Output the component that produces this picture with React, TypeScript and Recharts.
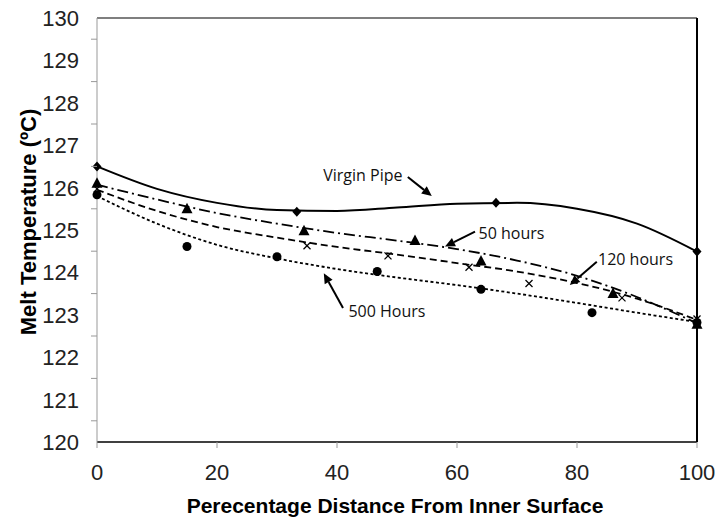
import React from 'react'
import {
  ComposedChart,
  Line,
  Scatter,
  XAxis,
  YAxis,
  ReferenceLine,
  ReferenceDot,
} from 'recharts'

// measured points (markers)
const virginPoints = [
  { x: 0, y: 126.5 },
  { x: 33.3, y: 125.43 },
  { x: 66.5, y: 125.64 },
  { x: 100, y: 124.49 },
]
const hours50Points = [
  { x: 0, y: 126.1 },
  { x: 15, y: 125.5 },
  { x: 34.5, y: 124.98 },
  { x: 53, y: 124.75 },
  { x: 64, y: 124.27 },
  { x: 86, y: 123.5 },
  { x: 100, y: 122.78 },
]
const hours120Points = [
  { x: 0, y: 125.97 },
  { x: 35, y: 124.63 },
  { x: 48.5, y: 124.39 },
  { x: 62, y: 124.12 },
  { x: 72, y: 123.74 },
  { x: 87.5, y: 123.4 },
  { x: 100, y: 122.9 },
]
const hours500Points = [
  { x: 0, y: 125.83 },
  { x: 15, y: 124.61 },
  { x: 30, y: 124.37 },
  { x: 46.7, y: 124.02 },
  { x: 64, y: 123.6 },
  { x: 82.5, y: 123.05 },
  { x: 100, y: 122.82 },
]

// trend lines, every 10%
const virginTrend = [
  { x: 0, y: 126.5 },
  { x: 10, y: 125.97 },
  { x: 20, y: 125.64 },
  { x: 30, y: 125.47 },
  { x: 40, y: 125.45 },
  { x: 50, y: 125.53 },
  { x: 60, y: 125.62 },
  { x: 70, y: 125.64 },
  { x: 80, y: 125.5 },
  { x: 90, y: 125.15 },
  { x: 100, y: 124.49 },
]
const hours50Trend = [
  { x: 0, y: 126.07 },
  { x: 10, y: 125.72 },
  { x: 20, y: 125.4 },
  { x: 30, y: 125.15 },
  { x: 40, y: 124.93 },
  { x: 50, y: 124.75 },
  { x: 60, y: 124.55 },
  { x: 70, y: 124.28 },
  { x: 80, y: 123.92 },
  { x: 90, y: 123.42 },
  { x: 100, y: 122.8 },
]
const hours120Trend = [
  { x: 0, y: 125.95 },
  { x: 10, y: 125.45 },
  { x: 20, y: 125.07 },
  { x: 30, y: 124.82 },
  { x: 40, y: 124.6 },
  { x: 50, y: 124.42 },
  { x: 60, y: 124.22 },
  { x: 70, y: 124.02 },
  { x: 80, y: 123.75 },
  { x: 90, y: 123.38 },
  { x: 100, y: 122.88 },
]
const hours500Trend = [
  { x: 0, y: 125.8 },
  { x: 10, y: 125.15 },
  { x: 20, y: 124.65 },
  { x: 30, y: 124.33 },
  { x: 40, y: 124.08 },
  { x: 50, y: 123.88 },
  { x: 60, y: 123.7 },
  { x: 70, y: 123.5 },
  { x: 80, y: 123.28 },
  { x: 90, y: 123.05 },
  { x: 100, y: 122.83 },
]

const xTicks = [0, 20, 40, 60, 80, 100]
const yTicks = [
  120, 120.5, 121, 121.5, 122, 122.5, 123, 123.5, 124, 124.5, 125,
  125.5, 126, 126.5, 127, 127.5, 128, 128.5, 129, 129.5, 130,
]

// annotations: label position + arrow (tail -> head), in data units
const notes = [
  { text: 'Virgin Pipe', x: 37.7, y: 126.3, from: { x: 51.8, y: 126.25 }, to: { x: 55.8, y: 125.8 } },
  { text: '50 hours', x: 63.6, y: 124.93, from: { x: 63.0, y: 124.96 }, to: { x: 58.0, y: 124.61 } },
  { text: '120 hours', x: 83.5, y: 124.32, from: { x: 83.3, y: 124.25 }, to: { x: 78.8, y: 123.7 } },
  { text: '500 Hours', x: 41.9, y: 123.1, from: { x: 41.0, y: 123.16 }, to: { x: 37.8, y: 123.98 } },
]

const AXIS_FONT = 'Liberation Sans, Arial, sans-serif'

// eslint-disable-next-line @typescript-eslint/no-explicit-any
const Diamond = ({ cx, cy }: any) => (
  <polygon points={`${cx},${cy - 5} ${cx + 4.5},${cy} ${cx},${cy + 5} ${cx - 4.5},${cy}`} fill="#000" />
)
// eslint-disable-next-line @typescript-eslint/no-explicit-any
const Triangle = ({ cx, cy }: any) => (
  <polygon points={`${cx},${cy - 6} ${cx + 5.5},${cy + 4.5} ${cx - 5.5},${cy + 4.5}`} fill="#000" />
)
// eslint-disable-next-line @typescript-eslint/no-explicit-any
const Cross = ({ cx, cy }: any) => (
  <g stroke="#000" strokeWidth={1.3}>
    <line x1={cx - 3.5} y1={cy - 3.5} x2={cx + 3.5} y2={cy + 3.5} />
    <line x1={cx - 3.5} y1={cy + 3.5} x2={cx + 3.5} y2={cy - 3.5} />
  </g>
)
// eslint-disable-next-line @typescript-eslint/no-explicit-any
const Dot = ({ cx, cy }: any) => <circle cx={cx} cy={cy} r={4.5} fill="#000" />

// eslint-disable-next-line @typescript-eslint/no-explicit-any
const Arrow = ({ x1, y1, x2, y2 }: any) => {
  const a = Math.atan2(y2 - y1, x2 - x1)
  const len = 10
  const w = 4.5
  const bx = x2 - len * Math.cos(a)
  const by = y2 - len * Math.sin(a)
  return (
    <g>
      <line x1={x1} y1={y1} x2={bx} y2={by} stroke="#000" strokeWidth={2} />
      <polygon
        points={`${x2},${y2} ${bx + w * Math.sin(a)},${by - w * Math.cos(a)} ${bx - w * Math.sin(a)},${by + w * Math.cos(a)}`}
        fill="#000"
      />
    </g>
  )
}

// eslint-disable-next-line @typescript-eslint/no-explicit-any
function YTick({ x, y, payload }: any) {
  const v = payload.value
  if (!Number.isInteger(v)) {
    return <line x1={x + 12} y1={y} x2={x + 18} y2={y} stroke="#999" strokeWidth={1} />
  }
  return (
    <text x={x} y={y} textAnchor="end" dy="0.36em" fontSize={22} fill="#222" fontFamily={AXIS_FONT}>
      {v}
    </text>
  )
}

// eslint-disable-next-line @typescript-eslint/no-explicit-any
function XTick({ x, y, payload }: any) {
  return (
    <text x={x} y={y} textAnchor="middle" dy="0.72em" fontSize={22} fill="#222" fontFamily={AXIS_FONT}>
      {payload.value}
    </text>
  )
}

export default function App() {
  return (
    <div style={{ position: 'absolute', left: 0, top: 0, width: 715, height: 520, background: '#fff' }}>
      <ComposedChart width={715} height={520} margin={{ top: 18, right: 18, bottom: 0, left: 0 }}>
        <XAxis
          type="number"
          dataKey="x"
          domain={[0, 100]}
          ticks={xTicks}
          interval={0}
          height={78}
          tickSize={6}
          tickMargin={16}
          tick={<XTick />}
          tickLine={{ stroke: '#999' }}
          axisLine={{ stroke: '#000', strokeWidth: 1.5 }}
          label={{
            // eslint-disable-next-line @typescript-eslint/no-explicit-any
            content: ({ viewBox }: any) => (
              <text
                x={viewBox.x + viewBox.width / 2 - 2}
                y={viewBox.y + 63}
                textAnchor="middle"
                dominantBaseline="central"
                fontSize={21}
                fontWeight="bold"
                fill="#000"
                fontFamily={AXIS_FONT}
              >
                Perecentage Distance From Inner Surface
              </text>
            ),
          }}
        />
        <YAxis
          type="number"
          domain={[120, 130]}
          ticks={yTicks}
          interval={0}
          width={97}
          tickSize={6}
          tickMargin={12}
          tickLine={false}
          tick={<YTick />}
          axisLine={{ stroke: '#999', strokeWidth: 1 }}
          label={{
            // eslint-disable-next-line @typescript-eslint/no-explicit-any
            content: ({ viewBox }: any) => {
              const cx = viewBox.x + 28
              const cy = viewBox.y + viewBox.height / 2 - 8
              return (
                <text
                  x={cx}
                  y={cy}
                  transform={`rotate(-90, ${cx}, ${cy})`}
                  textAnchor="middle"
                  dominantBaseline="central"
                  fontSize={22}
                  fontWeight="bold"
                  fill="#000"
                  fontFamily={AXIS_FONT}
                >
                  Melt Temperature (ºC)
                </text>
              )
            },
          }}
        />

        {/* plot frame */}
        <ReferenceLine y={130} stroke="#000" strokeWidth={1.2} />
        <ReferenceLine x={100} stroke="#000" strokeWidth={2} />

        {/* trend lines */}
        <Line data={virginTrend} dataKey="y" type="monotone" stroke="#000" strokeWidth={2} dot={false} isAnimationActive={false} />
        <Line data={hours50Trend} dataKey="y" type="monotone" stroke="#000" strokeWidth={1.8} strokeDasharray="11 4 2 4" dot={false} isAnimationActive={false} />
        <Line data={hours120Trend} dataKey="y" type="monotone" stroke="#000" strokeWidth={1.8} strokeDasharray="7 4" dot={false} isAnimationActive={false} />
        <Line data={hours500Trend} dataKey="y" type="monotone" stroke="#000" strokeWidth={1.8} strokeDasharray="3 2.5" dot={false} isAnimationActive={false} />

        {/* markers */}
        <Scatter data={virginPoints} dataKey="y" shape={<Diamond />} isAnimationActive={false} />
        <Scatter data={hours500Points} dataKey="y" shape={<Dot />} isAnimationActive={false} />
        <Scatter data={hours120Points} dataKey="y" shape={<Cross />} isAnimationActive={false} />
        <Scatter data={hours50Points} dataKey="y" shape={<Triangle />} isAnimationActive={false} />

        {/* callouts */}
        {notes.map((n) => (
          <ReferenceLine
            key={`arrow-${n.text}`}
            segment={[n.from, n.to]}
            shape={<Arrow />}
          />
        ))}
        {notes.map((n) => (
          <ReferenceDot
            key={`label-${n.text}`}
            x={n.x}
            y={n.y}
            r={0}
            // eslint-disable-next-line @typescript-eslint/no-explicit-any
            shape={({ cx, cy }: any) => (
              <text x={cx} y={cy} dominantBaseline="central" fontSize={16} fill="#111" fontFamily="Open Sans, sans-serif">
                {n.text}
              </text>
            )}
          />
        ))}
      </ComposedChart>
    </div>
  )
}
